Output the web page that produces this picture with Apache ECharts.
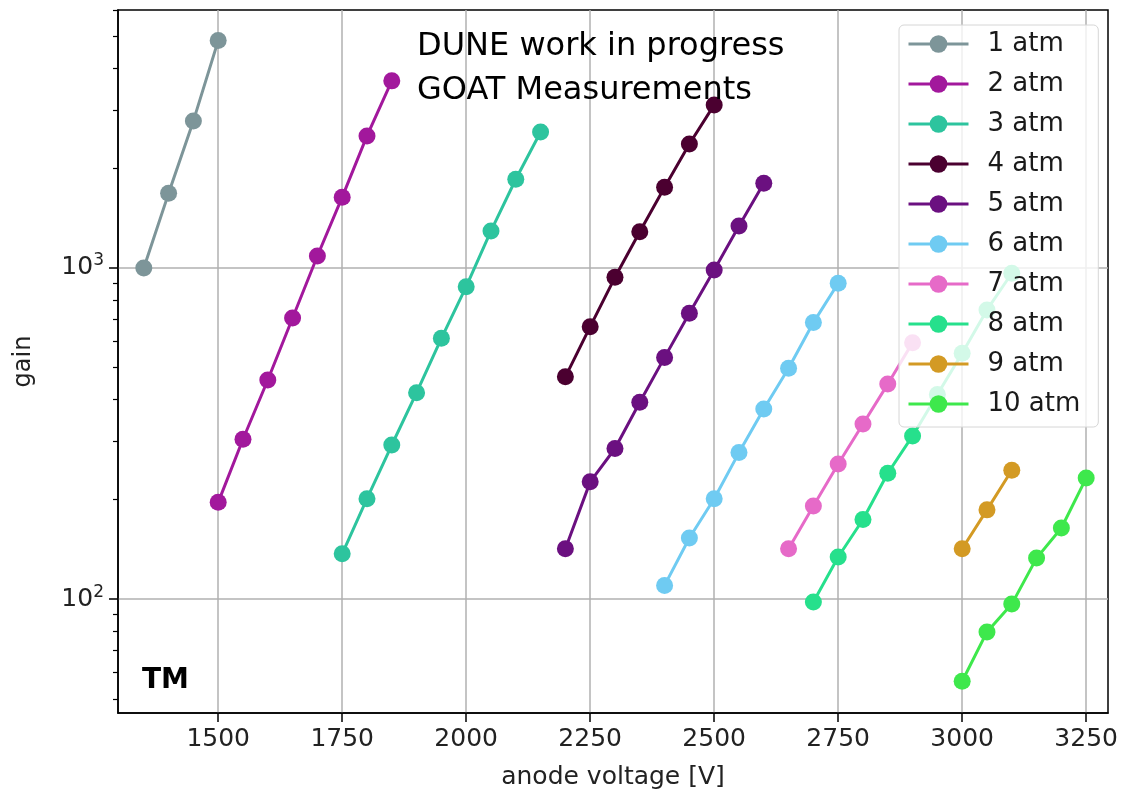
<!DOCTYPE html>
<html>
<head>
<meta charset="utf-8">
<script src="https://cdn.jsdelivr.net/npm/echarts@6/dist/echarts.min.js"></script>
<style>
html,body{margin:0;padding:0;background:#fff;}
#chart{width:1123px;height:795px;}
</style>
</head>
<body>
<div id="chart"></div>
<script>
// ---- data ----
const seriesNames = ['1 atm','2 atm','3 atm','4 atm','5 atm','6 atm','7 atm','8 atm','9 atm','10 atm'];
const seriesColors = ['#7d9599','#a2189c','#2dc49e','#4b0030','#6b1080','#6fcbf2','#e66ac8','#26e08c','#d39a24','#3ee84c'];

const volt1 = [1350,1400,1450,1500];
const gain1 = [1000,1680,2780,4860];
const volt2 = [1500,1550,1600,1650,1700,1750,1800,1850];
const gain2 = [196,304,459,706,1087,1636,2505,3673];
const volt3 = [1750,1800,1850,1900,1950,2000,2050,2100,2150];
const gain3 = [137,201,292,420,613,878,1294,1853,2575];
const volt4 = [2200,2250,2300,2350,2400,2450,2500];
const gain4 = [469,665,937,1287,1753,2369,3108];
const volt5 = [2200,2250,2300,2350,2400,2450,2500,2550,2600];
const gain5 = [142,226,285,393,537,730,986,1339,1803];
const volt6 = [2400,2450,2500,2550,2600,2650,2700,2750];
const gain6 = [110,153,201,277,375,498,684,899];
const volt7 = [2650,2700,2750,2800,2850,2900];
const gain7 = [142,191,256,338,446,595];
const volt8 = [2700,2750,2800,2850,2900,2950,3000,3050,3100];
const gain8 = [98,134,174,240,311,415,553,747,964];
const volt9 = [3000,3050,3100];
const gain9 = [142,186,245];
const volt10 = [3000,3050,3100,3150,3200,3250];
const gain10 = [56.5,79.6,96.6,133,164,232];

const xTicks = [1500,1750,2000,2250,2500,2750,3000,3250];
const yMajorTicks = [100,1000];
const yMinorTicks = [50,60,70,80,90,200,300,400,500,600,700,800,900,2000,3000,4000,5000,6000];

const volts = [volt1,volt2,volt3,volt4,volt5,volt6,volt7,volt8,volt9,volt10];
const gains = [gain1,gain2,gain3,gain4,gain5,gain6,gain7,gain8,gain9,gain10];

// ---- chart ----
const chart = echarts.init(document.getElementById('chart'), null, {renderer:'canvas'});
const FONT = 'DejaVu Sans';
const yMin = 45.3, yMax = 6012;

const series = seriesNames.map((n,i)=>({
  name: n,
  type: 'line',
  data: volts[i].map((v,j)=>[v, gains[i][j]]),
  xAxisIndex: 0, yAxisIndex: 0,
  symbol: 'circle',
  symbolSize: 17,
  color: seriesColors[i],
  lineStyle: {width: 3, color: seriesColors[i]},
  itemStyle: {color: seriesColors[i]},
  emphasis: {disabled: true},
  animation: false,
  z: 2
}));

chart.setOption({
  animation: false,
  backgroundColor: '#fff',
  textStyle: {fontFamily: FONT},
  grid: {left: 118, right: 15, top: 10, bottom: 82, containLabel: false, outerBoundsMode: 'none',
         show: true, borderColor: '#000', borderWidth: 1.5, backgroundColor: 'transparent'},
  title: [
    {text: 'DUNE work in progress\nGOAT Measurements', left: 412, top: 20,
     textStyle: {fontFamily: FONT, fontSize: 32, fontWeight: 'normal', color: '#000', lineHeight: 44}},
    {text: 'TM', left: 137, top: 662,
     textStyle: {fontFamily: FONT, fontSize: 28, fontWeight: 'bold', color: '#000'}}
  ],
  legend: {
    data: seriesNames,
    orient: 'vertical',
    left: 899, top: 25,
    padding: [6, 18, 10, 8],
    itemWidth: 60, itemHeight: 22, itemGap: 14,
    lineStyle: {width: 3},
    backgroundColor: 'rgba(255,255,255,0.8)',
    borderColor: '#d6d6d6', borderWidth: 1, borderRadius: 5,
    textStyle: {fontFamily: FONT, fontSize: 26, color: '#1a1a1a', lineHeight: 26, padding: [0,0,0,14]},
    z: 10
  },
  xAxis: {
    type: 'value', min: 1298, max: 3294,
    name: 'anode voltage [V]', nameLocation: 'middle', nameGap: 52,
    nameTextStyle: {fontFamily: FONT, fontSize: 25, color: '#222'},
    axisLine: {show: true, lineStyle: {color: '#000', width: 1.5}},
    axisTick: {show: true, inside: false, length: 9, lineStyle: {color: '#000', width: 1.5}, customValues: xTicks},
    axisLabel: {customValues: xTicks, fontFamily: FONT, fontSize: 25, color: '#222', margin: 14,
                formatter: function(v){ return String(v); }},
    splitLine: {show: true, lineStyle: {color: '#b0b0b0', width: 1.5}}
  },
  yAxis: [
    {
      type: 'log', logBase: 10, min: yMin, max: yMax,
      name: 'gain', nameLocation: 'middle', nameGap: 82,
      nameTextStyle: {fontFamily: FONT, fontSize: 24, color: '#222'},
      axisLine: {show: true, lineStyle: {color: '#000', width: 1.5}},
      axisTick: {show: true, length: 9, lineStyle: {color: '#000', width: 1.5}, customValues: yMajorTicks},
      axisLabel: {
        customValues: yMajorTicks, margin: 14, color: '#222',
        formatter: function(v){ const e = Math.round(Math.log10(v)); return '{b|10}{s|' + e + '}'; },
        rich: {
          b: {fontFamily: FONT, fontSize: 25, color: '#222'},
          s: {fontFamily: FONT, fontSize: 17, color: '#222', padding: [0,0,14,0]}
        }
      },
      splitLine: {show: true, lineStyle: {color: '#b0b0b0', width: 1.5}}
    },
    {
      type: 'log', logBase: 10, min: yMin, max: yMax, position: 'left', offset: 0,
      axisLine: {show: false},
      axisTick: {show: true, length: 5, lineStyle: {color: '#000', width: 1.2}, customValues: yMinorTicks},
      axisLabel: {show: false},
      splitLine: {show: false}
    }
  ],
  series: series
});
</script>
</body>
</html>
